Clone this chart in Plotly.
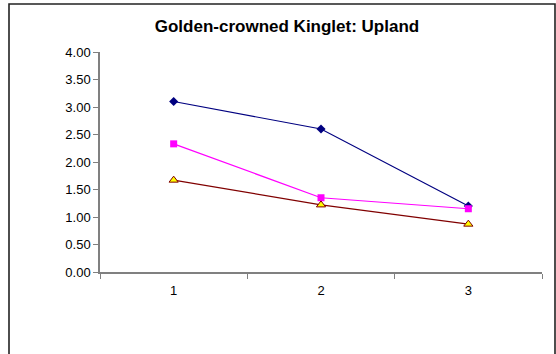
import plotly.graph_objects as go

# Survey periods and mean counts per series
periods = ["1", "2", "3"]
series_a = [3.10, 2.60, 1.20]
series_b = [2.33, 1.35, 1.15]
series_c = [1.67, 1.22, 0.87]
y_ticks = [0, 0.5, 1.0, 1.5, 2.0, 2.5, 3.0, 3.5, 4.0]

W, H = 556, 354
L, R, T, B = 100, 14, 52, 82
pw, ph = W - L - R, H - T - B

fig = go.Figure()
fig.add_trace(go.Scatter(
    x=periods, y=series_a, mode="lines+markers",
    line=dict(color="#000080", width=1.2),
    marker=dict(symbol="diamond", size=7, color="#000080"),
))
fig.add_trace(go.Scatter(
    x=periods, y=series_b, mode="lines+markers",
    line=dict(color="#FF00FF", width=1.2),
    marker=dict(symbol="square", size=7, color="#FF00FF"),
))
fig.add_trace(go.Scatter(
    x=periods, y=series_c, mode="lines+markers",
    line=dict(color="#800000", width=1.2),
    marker=dict(symbol="triangle-up", size=8, color="#FFFF00",
                line=dict(color="#800000", width=1)),
))

# outer chart border (extends past the bottom edge)
def px_x(p):
    return (p - L) / pw

def px_y(p):
    return (H - B - p) / ph

fig.add_shape(type="rect", xref="paper", yref="paper",
              x0=px_x(9), x1=px_x(555), y0=px_y(380), y1=px_y(4),
              line=dict(color="#222222", width=1.6), layer="below")

fig.update_layout(
    width=W, height=H,
    margin=dict(l=L, r=R, t=T, b=B),
    paper_bgcolor="white", plot_bgcolor="white",
    showlegend=False,
    font=dict(family="Liberation Sans, Arial, sans-serif", color="black"),
    title=dict(text="<b>Golden-crowned Kinglet: Upland</b>",
               x=px_x(287), xanchor="center", xref="paper",
               y=1 - 26 / H, yanchor="middle",
               font=dict(size=17, color="black")),
    xaxis=dict(type="category", range=[-0.5, 2.5], tickson="boundaries",
               ticks="outside", ticklen=5, tickcolor="#808080",
               showline=True, linecolor="#808080", linewidth=1.5,
               showgrid=False, tickfont=dict(size=13), zeroline=False,
               ticklabelstandoff=6),
    yaxis=dict(range=[0, 4], tickvals=y_ticks, tickformat=".2f",
               ticks="outside", ticklen=5, tickcolor="#808080",
               showline=True, linecolor="#808080", linewidth=1.5,
               showgrid=False, zeroline=False, tickfont=dict(size=13)),
)

fig.write_html("out.html")
